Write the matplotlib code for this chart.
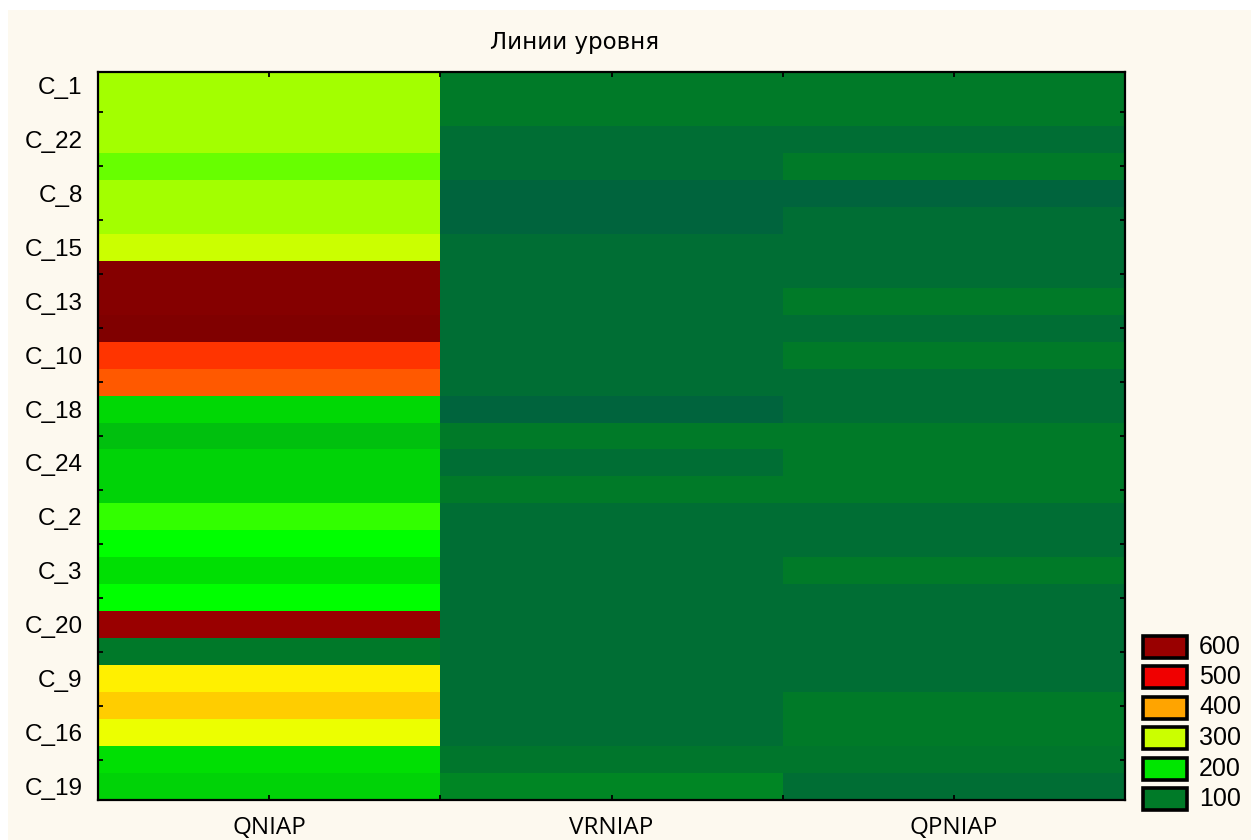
import matplotlib
matplotlib.use("Agg")
import matplotlib.pyplot as plt
from matplotlib.colors import LinearSegmentedColormap, Normalize
from matplotlib.patches import Rectangle
import numpy as np

# Level-plot data: one value per row (top to bottom) for each variable
variables = ["QNIAP", "VRNIAP", "QPNIAP"]
row_labels = ["C_1", "C_22", "C_8", "C_15", "C_13", "C_10", "C_18",
              "C_24", "C_2", "C_3", "C_20", "C_9", "C_16", "C_19"]

qniap = [282, 282, 282, 255, 282, 282, 300, 671, 671, 690, 462, 441, 187, 165,
         183, 183, 232, 210, 194, 210, 600, 98, 333, 365, 313, 194, 183]
vrniap = [100, 100, 62, 62, 31, 31, 62, 62, 62, 62, 62, 62, 31, 100,
          62, 100, 62, 62, 62, 62, 62, 62, 62, 62, 62, 87, 111]
qpniap = [100, 100, 62, 100, 31, 62, 62, 62, 100, 62, 100, 62, 62, 100,
          100, 100, 62, 62, 100, 62, 62, 62, 62, 100, 100, 88, 62]

legend_levels = [600, 500, 400, 300, 200, 100]

# Colour scale of the level plot
vmin, vmax = 0, 700
nodes = [(0, "#005a46"), (100, "#007a28"), (200, "#00e600"), (210, "#00ff00"),
         (300, "#ccff00"), (320, "#ffff00"), (400, "#ffa500"), (490, "#ff0000"),
         (500, "#f00000"), (600, "#990000"), (700, "#7d0000")]
cmap = LinearSegmentedColormap.from_list(
    "levels", [((v - vmin) / (vmax - vmin), c) for v, c in nodes], N=1024)
norm = Normalize(vmin=vmin, vmax=vmax)

W, H = 1251, 840
fig = plt.figure(figsize=(W / 100, H / 100), dpi=100, facecolor="white")
fig.patches.append(Rectangle((8 / W, 0), 1, (H - 10) / H, transform=fig.transFigure,
                             facecolor="#fdf9ef", edgecolor="none", zorder=-10))

ax = fig.add_axes([98 / W, 1 - 800 / H, (1125 - 98) / W, (800 - 72) / H])
data = np.array([qniap, vrniap, qpniap]).T
n_rows = data.shape[0]
ax.pcolormesh(np.arange(len(variables) + 1), np.arange(n_rows + 1), data,
              cmap=cmap, norm=norm, shading="flat")
ax.set_xlim(0, len(variables))
ax.set_ylim(n_rows, 0)

for s in ax.spines.values():
    s.set_linewidth(1.6)
    s.set_color("black")

# x ticks: labels at column centres, small marks at centres and boundaries
ax.set_xticks(np.arange(len(variables)) + 0.5)
ax.set_xticklabels(variables, family="Open Sans", fontsize=17.5)
ax.set_xticks(np.arange(1, len(variables)), minor=True)
ax.tick_params(axis="x", which="both", direction="in", length=3.5, width=1.3,
               top=True, bottom=True, pad=11.5)

# y ticks: labels on every other row, marks on the rows in between
ax.set_yticks(np.arange(0, n_rows, 2) + 0.5)
ax.set_yticklabels(row_labels, family="Liberation Sans", fontsize=17.5)
ax.set_yticks(np.arange(1, n_rows, 2) + 0.5, minor=True)
ax.tick_params(axis="y", which="major", length=0, pad=11)
ax.tick_params(axis="y", which="minor", direction="in", length=3.5, width=1.3,
               left=True, right=True)

fig.text(575 / W, 1 - 43 / H, "Линии уровня", family="DejaVu Sans",
         fontsize=16.5, ha="center", va="center")

# Level legend
box_x, box_w, box_h = 1143, 44, 22
y0, dy = 646.5, 30.5
for i, lev in enumerate(legend_levels):
    yc = y0 + i * dy
    fig.patches.append(Rectangle((box_x / W, 1 - (yc + box_h / 2) / H),
                                 box_w / W, box_h / H, transform=fig.transFigure,
                                 facecolor=cmap(norm(lev)), edgecolor="black",
                                 linewidth=2.6))
    fig.text(1199 / W, 1 - yc / H, str(lev), family="Liberation Sans",
             fontsize=18, ha="left", va="center")

fig.savefig("out.png", dpi=100, facecolor=fig.get_facecolor())
